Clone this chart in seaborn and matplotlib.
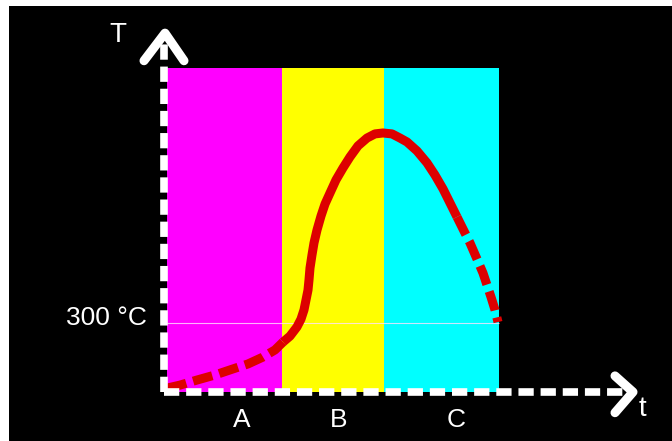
import matplotlib
matplotlib.use("Agg")
import matplotlib.pyplot as plt
import pandas as pd
import seaborn as sns

# Phases along the time axis
phase_labels = ["A", "B", "C"]
phase_edges = [0.3, 11.8, 22.0, 33.5]
phase_colors = ["#ff00ff", "#ffff00", "#00ffff"]
phase_top = 1410
phase_label_t = [7.8, 17.5, 29.2]

# Temperature profile (time, °C): slow heating, main cycle, cooling
heat_t = [0.3, 1.6, 3.3, 5.1, 6.6, 8.4, 9.9, 11.1, 11.9]
heat_T = [17, 30, 52, 74, 96, 122, 152, 183, 217]
main_t = [11.9, 12.6, 13.3, 13.7, 14.0, 14.2, 14.4, 14.5, 14.6, 14.8,
          15.0, 15.3, 15.7, 16.1, 16.6, 17.2, 17.9, 18.6, 19.4, 20.3,
          21.1, 21.9, 22.8, 23.6, 24.3, 25.3, 26.3, 27.1, 27.9, 28.6, 29.3]
main_T = [217, 243, 283, 317, 357, 400, 443, 487, 539, 596,
          648, 704, 765, 817, 865, 922, 974, 1022, 1070, 1104,
          1122, 1126, 1122, 1104, 1087, 1048, 996, 943, 883, 822, 761]
cool_t = [29.3, 30.1, 30.6, 31.3, 31.9, 32.4, 32.7, 33.1, 33.4]
cool_T = [761, 691, 648, 578, 517, 452, 413, 357, 304]

ref_T = 300
ref_label = "300 °C"
axis_labels = ("t", "T")

sns.set_theme(style="white")
plt.rcParams["font.family"] = ["Liberation Sans", "DejaVu Sans"]

fig = plt.figure(figsize=(6.72, 4.41), dpi=100, facecolor="white")
ax = fig.add_axes([9 / 672, 0, 663 / 672, 435 / 441])
ax.set_facecolor("black")
ax.set_xlim(-15.5, 50.8)
ax.set_ylim(-213, 1678)
ax.set_xticks([])
ax.set_yticks([])
for s in ax.spines.values():
    s.set_visible(False)

# Coloured phase bands
for i, col in enumerate(phase_colors):
    ax.bar(phase_edges[i], phase_top, width=phase_edges[i + 1] - phase_edges[i],
           align="edge", color=col, linewidth=0, zorder=1)

# Reference temperature line
ax.hlines(ref_T, phase_edges[0], phase_edges[-1], color="#ffe0ff",
          lw=0.8, alpha=0.8, zorder=2)

# Temperature curve
red = "#dd0000"
segments = [(heat_t, heat_T, (0, (2.2, 0.8))),
            (main_t, main_T, "-"),
            (cool_t, cool_T, (0, (2.2, 0.8)))]
for ts, Ts, ls in segments:
    df = pd.DataFrame({"t": ts, "T": Ts})
    sns.lineplot(data=df, x="t", y="T", ax=ax, color=red, linewidth=6.5,
                 linestyle=ls, errorbar=None, zorder=3,
                 solid_capstyle="butt", dash_capstyle="butt",
                 solid_joinstyle="round", dash_joinstyle="round")

# Dashed axes with chevron arrow heads
ax.plot([0, 0], [0, 1530], color="white", lw=5.5, zorder=4,
        linestyle=(0, (2.0, 0.9)), dash_capstyle="butt")
ax.plot([0, 46.0], [0, 0], color="white", lw=5.5, zorder=4,
        linestyle=(0, (2.0, 0.9)), dash_capstyle="butt")
ax.plot([-2.0, 0.1, 2.0], [1440, 1560, 1440], color="white", lw=6.5,
        solid_capstyle="round", solid_joinstyle="round", zorder=4)
ax.plot([45.1, 46.9, 45.1], [70, 0, -90], color="white", lw=6.5,
        solid_capstyle="round", solid_joinstyle="round", zorder=4)

# Text labels
txt = dict(color="white", ha="center", va="center")
ax.text(-4.6, 1552, axis_labels[1], fontsize=20, **txt)
ax.text(47.8, -74, axis_labels[0], fontsize=20, **txt)
for lab, tx in zip(phase_labels, phase_label_t):
    ax.text(tx, -122, lab, fontsize=19, **txt)
ax.text(-1.7, 322, ref_label, fontsize=19, color="white",
        ha="right", va="center")

ax.set_xlabel("")
ax.set_ylabel("")
fig.savefig("out.png", dpi=100, facecolor="white")
